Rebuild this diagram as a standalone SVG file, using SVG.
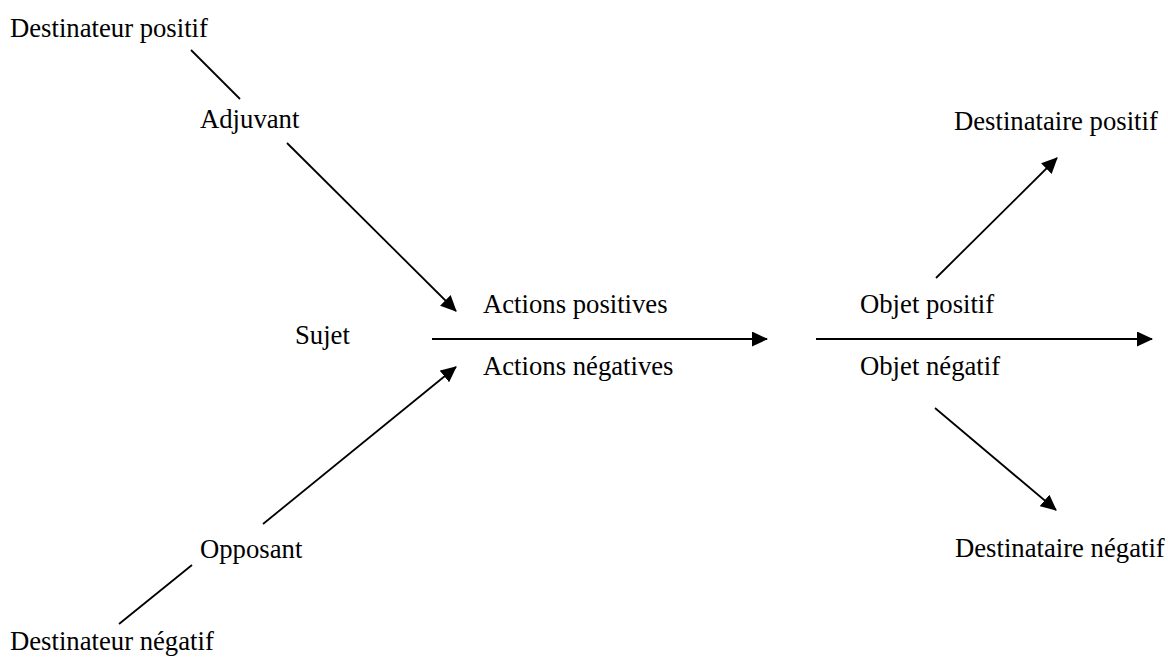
<svg xmlns="http://www.w3.org/2000/svg" width="1168" height="657" viewBox="0 0 1168 657">
<defs>
<style>
text{font-family:"Liberation Serif","Times New Roman",serif;font-size:26.7px;fill:#000}
.c{stroke:#000;stroke-width:1.8;fill:none}
.a{marker-end:url(#arr)}
</style>
<marker id="arr" viewBox="0 0 16 15" refX="15" refY="7.5" markerWidth="16" markerHeight="15" markerUnits="userSpaceOnUse" orient="auto">
<path d="M0,0 L16,7.5 L0,15 z" fill="#000"/>
</marker>
</defs>
<rect width="1168" height="657" fill="#fff"/>
<g id="connectors">
<line class="c" x1="191" y1="50" x2="240" y2="99"/>
<line class="c a" x1="287" y1="143" x2="456" y2="311"/>
<line class="c a" x1="263" y1="524" x2="456" y2="367"/>
<line class="c" x1="192" y1="565" x2="119" y2="624"/>
<line class="c a" x1="432" y1="339" x2="767" y2="339"/>
<line class="c a" x1="816" y1="339" x2="1152" y2="339"/>
<line class="c a" x1="936" y1="278" x2="1057" y2="158"/>
<line class="c a" x1="935" y1="408" x2="1056" y2="510"/>
</g>
<g id="destinateur-positif"><text x="10" y="37">Destinateur positif</text></g>
<g id="adjuvant"><text x="200" y="128">Adjuvant</text></g>
<g id="sujet"><text x="295" y="344">Sujet</text></g>
<g id="actions-positives"><text x="483" y="313">Actions positives</text></g>
<g id="actions-negatives"><text x="483" y="375">Actions négatives</text></g>
<g id="opposant"><text x="200" y="558">Opposant</text></g>
<g id="destinateur-negatif"><text x="10" y="650">Destinateur négatif</text></g>
<g id="objet-positif"><text x="860" y="313">Objet positif</text></g>
<g id="objet-negatif"><text x="860" y="375">Objet négatif</text></g>
<g id="destinataire-positif"><text x="954" y="130">Destinataire positif</text></g>
<g id="destinataire-negatif"><text x="955" y="557">Destinataire négatif</text></g>
</svg>
